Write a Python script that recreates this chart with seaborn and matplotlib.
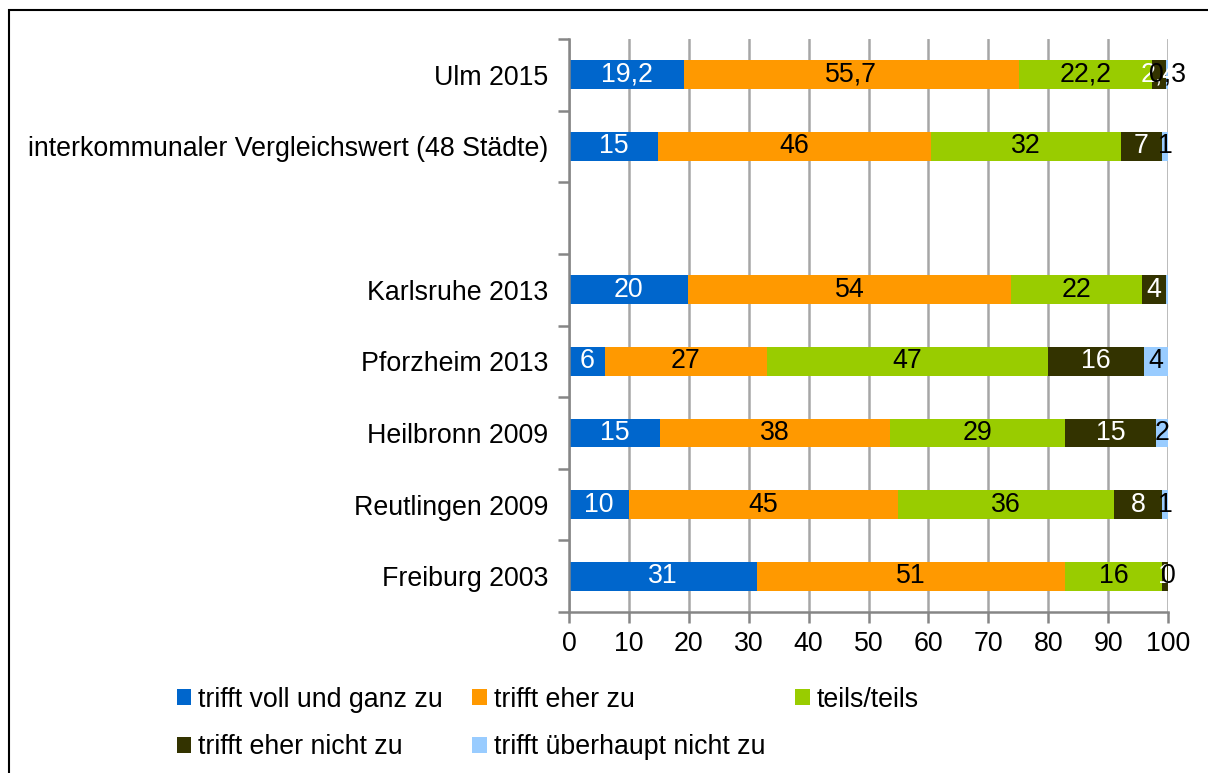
import numpy as np
import pandas as pd
import seaborn as sns
import matplotlib
matplotlib.use("Agg")
import matplotlib.pyplot as plt
from matplotlib.patches import Rectangle, Patch

# Survey results per city (percent), one list per answer category
cities = ["Ulm 2015", "interkommunaler Vergleichswert (48 Städte)", " ",
          "Karlsruhe 2013", "Pforzheim 2013", "Heilbronn 2009",
          "Reutlingen 2009", "Freiburg 2003"]
series_names = ["trifft voll und ganz zu", "trifft eher zu", "teils/teils",
                "trifft eher nicht zu", "trifft überhaupt nicht zu"]
voll = [19.2, 15, np.nan, 20, 6, 15, 10, 31]
eher = [55.7, 46, np.nan, 54, 27, 38, 45, 51]
teils = [22.2, 32, np.nan, 22, 47, 29, 36, 16]
eher_nicht = [2.4, 7, np.nan, 4, 16, 15, 8, 1]
gar_nicht = [0.3, 1, np.nan, 0.3, 4, 2, 1, 0]
# segments drawn without a value label (row, series)
unlabeled = {(3, 4)}

colors = ["#0066CC", "#FF9900", "#99CC00", "#333300", "#99CCFF"]
label_colors = ["white", "black", "black", "white", "black"]

sns.set_style("white")
plt.rcParams["font.family"] = ["Liberation Sans", "DejaVu Sans"]
plt.rcParams["text.color"] = "black"
plt.rcParams["xtick.labelcolor"] = "black"
plt.rcParams["ytick.labelcolor"] = "black"
FS = 19.3

values = np.array([voll, eher, teils, eher_nicht, gar_nicht], dtype=float)
# 100 % stacked: each row is scaled to its own total
shares = values / np.nansum(values, axis=0, keepdims=True) * 100
cum = np.cumsum(shares, axis=0)

fig = plt.figure(figsize=(12.08, 7.73), dpi=100)
ax = fig.add_axes([569 / 1208, 1 - 612 / 773, (1168 - 569) / 1208, (612 - 39) / 773])

# stacked bars: draw cumulative totals from the outermost segment inward
for i in range(len(series_names) - 1, -1, -1):
    df = pd.DataFrame({"city": cities, "value": cum[i]})
    sns.barplot(data=df, x="value", y="city", order=cities, orient="h",
                color=colors[i], saturation=1, width=0.4, ax=ax,
                edgecolor="none", linewidth=0, zorder=2)

# value labels centred on each segment
for i in range(len(series_names)):
    for r in range(len(cities)):
        v = values[i, r]
        if np.isnan(v) or (r, i) in unlabeled:
            continue
        center = cum[i, r] - shares[i, r] / 2
        txt = f"{v:g}".replace(".", ",")
        ax.text(center, r, txt, ha="center", va="center", fontsize=FS,
                color=label_colors[i], zorder=5)

ax.set_xlim(0, 100)
ax.set_ylim(len(cities) - 0.5, -0.5)
ax.set_xticks(np.arange(0, 101, 10))
ax.set_xlabel("")
ax.set_ylabel("")
ax.set_yticks(range(len(cities)))
ax.set_yticklabels(cities)
ax.set_yticks(np.arange(-0.5, len(cities), 1), minor=True)

grid_col = "#A6A6A6"
ax.grid(axis="x", color=grid_col, linewidth=1.8, zorder=0)
ax.grid(axis="y", visible=False)
ax.set_axisbelow(True)
for side in ["top", "right"]:
    ax.spines[side].set_visible(False)
for side in ["left", "bottom"]:
    ax.spines[side].set_color("#868686")
    ax.spines[side].set_linewidth(1.8)

ax.tick_params(axis="x", which="major", direction="out", length=8, width=1.8,
               color="#868686", labelsize=FS, pad=6, bottom=True)
ax.tick_params(axis="y", which="major", length=0, labelsize=FS, pad=15)
ax.tick_params(axis="y", which="minor", direction="out", length=8, width=1.8,
               color="#868686", left=True)

# legend laid out row by row
handles = [Patch(facecolor=c, edgecolor="none") for c in colors]
order = [0, 3, 1, 4, 2]
fig.legend([handles[k] for k in order], [series_names[k] for k in order],
           ncol=3, loc="lower left", bbox_to_anchor=(166 / 1208, 2 / 773),
           frameon=False, fontsize=FS, handlelength=0.55, handleheight=0.55,
           handletextpad=0.25, columnspacing=1.1, labelspacing=0.8,
           borderaxespad=0)

# outer chart frame
fig.patches.append(Rectangle((8.5 / 1208, -0.05), 1.1, 1 - 10 / 773 + 0.05,
                             transform=fig.transFigure, fill=False,
                             edgecolor="black", linewidth=1.5))

fig.savefig("out.png", dpi=100)
